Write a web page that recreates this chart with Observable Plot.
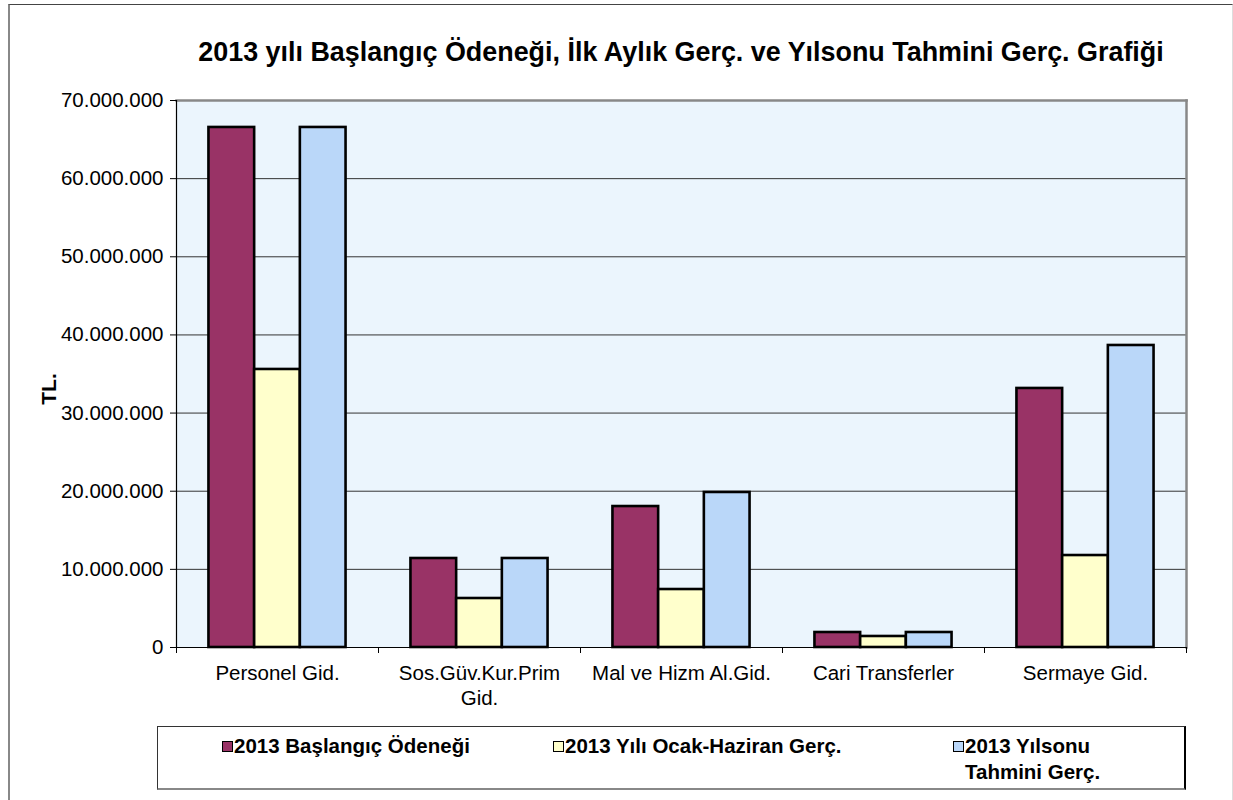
<!DOCTYPE html>
<html><head><meta charset="utf-8">
<script src="https://cdn.jsdelivr.net/npm/d3@7"></script>
<script src="https://cdn.jsdelivr.net/npm/@observablehq/plot@0.6"></script>
<style>
body{margin:0;background:#fff;font-family:"Liberation Sans",Arial,sans-serif;}
#wrap{position:relative;width:1233px;height:800px;overflow:hidden;background:#fff;}
#border{position:absolute;left:8px;top:4px;width:1222px;height:820px;border:1px solid #444;border-left:2px solid #888;border-right-color:#ddd;}
#title{position:absolute;left:176px;width:1010px;top:37px;text-align:center;font-weight:bold;font-size:26.9px;line-height:31px;color:#000;white-space:nowrap;}
#ylabel{position:absolute;left:49px;top:389px;transform:translate(-50%,-50%) rotate(-90deg);font-weight:bold;font-size:21px;color:#000;}
#chart{position:absolute;left:0;top:0;}
#legend{position:absolute;left:157px;top:726px;width:1026px;height:61px;border:1px solid #333;border-bottom:2px solid #888;border-right:2px solid #000;background:#fff;}
.item{position:absolute;top:6px;font-weight:bold;font-size:20.5px;display:flex;align-items:flex-start;line-height:26px;color:#000;}
.sw{width:9px;height:9px;border:1.5px solid #000;margin-right:1px;margin-top:8px;flex:none;}
</style>
</head><body>
<div id="wrap">
  <div id="border"></div>
  <div id="chart"></div>
  <div id="title"></div>
  <div id="ylabel">TL.</div>
  <div id="legend"></div>
</div>
<script>
const titleText = "2013 yılı Başlangıç Ödeneği, İlk Aylık Gerç. ve Yılsonu Tahmini Gerç. Grafiği";
const categories = ["Personel Gid.", "Sos.Güv.Kur.Prim Gid.", "Mal ve Hizm Al.Gid.", "Cari Transferler", "Sermaye Gid."];
const categoryLabels = ["Personel Gid.", "Sos.Güv.Kur.Prim\nGid.", "Mal ve Hizm Al.Gid.", "Cari Transferler", "Sermaye Gid."];
const series = ["2013 Başlangıç Ödeneği", "2013 Yılı Ocak-Haziran Gerç.", "2013 Yılsonu Tahmini Gerç."];
const legendLabels = ["2013 Başlangıç Ödeneği", "2013 Yılı Ocak-Haziran Gerç.", "2013 Yılsonu<br>Tahmini Gerç."];
const baslangic   = [66550000, 11390000, 18040000, 1920000, 33150000];
const ocakHaziran = [35580000,  6270000,  7420000, 1410000, 11770000];
const yilsonu     = [66550000, 11390000, 19840000, 1920000, 38650000];
const colors = ["#993366", "#FFFFCC", "#BAD7F9"];
const yTicks = [0, 10000000, 20000000, 30000000, 40000000, 50000000, 60000000, 70000000];

document.getElementById("title").textContent = titleText;

const valuesBySeries = [baslangic, ocakHaziran, yilsonu];
const data = [];
series.forEach((s, si) => categories.forEach((c, ci) => data.push({category: c, series: s, si, value: valuesBySeries[si][ci]})));

const tr = d3.formatLocale({decimal: ",", thousands: ".", grouping: [3], currency: ["", " TL"]});
const fmt = tr.format(",d");

const W = 1233, H = 720, ML = 176, MR = 47, MT = 100, MB = 73;
const bw = (W - ML - MR) / categories.length;   // band width per category
const outer = 0.71;                              // outer padding in bar widths
const b = bw / (series.length + 2 * outer);      // bar width
const po = outer * b;

const barMarks = series.map((s, si) => Plot.barY(data.filter(d => d.si === si), {
  x: "category", y: "value", fill: colors[si], stroke: "#000", strokeWidth: 2.6,
  insetLeft: po + si * b, insetRight: bw - po - (si + 1) * b
}));

const chart = Plot.plot({
  width: W, height: H,
  marginLeft: ML, marginRight: MR, marginTop: MT, marginBottom: MB,
  style: {fontFamily: '"Liberation Sans", Arial, sans-serif', fontSize: "20.5px", color: "#000", background: "transparent"},
  x: {type: "band", domain: categories, padding: 0, axis: null},
  y: {domain: [0, 70000000], axis: null},
  marks: [
    Plot.frame({fill: "#EBF5FD", stroke: null}),
    Plot.gridY(yTicks, {stroke: "#333", strokeOpacity: 1, strokeWidth: 1}),
    ...barMarks,
    Plot.frame({anchor: "top", stroke: "#888", strokeWidth: 2.5}),
    Plot.frame({anchor: "right", stroke: "#888", strokeWidth: 2.5}),
    Plot.frame({anchor: "left", stroke: "#000", strokeWidth: 1.2}),
    Plot.frame({anchor: "bottom", stroke: "#000", strokeWidth: 1.2}),
    Plot.axisY({ticks: yTicks, tickFormat: fmt, tickSize: 6, tickPadding: 7, label: null, stroke: "#000", fill: "#000", fontSize: 20.5}),
    Plot.axisX({ticks: categories, tickSize: 6, text: null, dx: -bw / 2, stroke: "#000", label: null}),
    Plot.axisX({ticks: [categories[categories.length - 1]], tickSize: 6, text: null, dx: bw / 2, stroke: "#000", label: null}),
    Plot.axisX({ticks: categories, tickSize: 0, tickPadding: 15, label: null, fill: "#000", fontSize: 20.5, lineHeight: 1.2,
      tickFormat: d => categoryLabels[categories.indexOf(d)]})
  ]
});
document.getElementById("chart").appendChild(chart);

const legend = document.getElementById("legend");
const legendLeft = [64, 395, 795];
series.forEach((s, i) => {
  const item = document.createElement("div");
  item.className = "item";
  item.style.left = legendLeft[i] + "px";
  item.innerHTML = `<div class="sw" style="background:${colors[i]}"></div><div>${legendLabels[i]}</div>`;
  legend.appendChild(item);
});
</script>
</body></html>
